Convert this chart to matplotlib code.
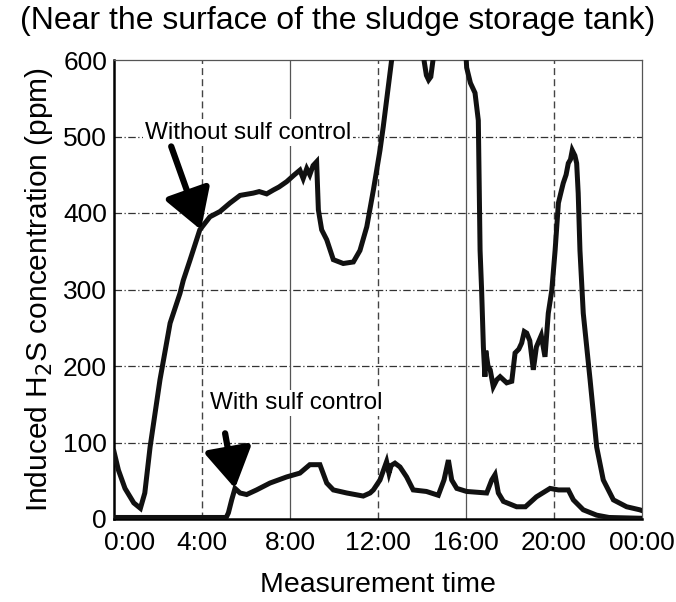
import matplotlib.pyplot as plt
import matplotlib.transforms as mtransforms

plt.rcParams["font.family"] = ["Liberation Sans", "DejaVu Sans"]

# hours since midnight / concentration in ppm
hours_without = [0.0, 0.2, 0.5, 0.9, 1.2, 1.4, 1.64, 2.09, 2.55, 3.0, 3.15, 3.45, 3.9,
                 4.36, 4.82, 5.27, 5.73, 6.33, 6.6, 6.94, 7.24, 7.5, 7.85, 8.2, 8.45,
                 8.6, 8.76, 8.9, 9.05, 9.21, 9.29, 9.44, 9.67, 9.97, 10.42, 10.88,
                 11.18, 11.49, 11.79, 12.09, 12.24, 12.62, 13.0, 13.6, 14.0, 14.1,
                 14.2, 14.3, 14.4, 14.5, 14.6, 15.2, 15.9, 16.03, 16.2, 16.41,
                 16.56, 16.64, 16.71, 16.79, 16.86, 16.9, 17.0, 17.1, 17.24, 17.4,
                 17.55, 17.7, 17.85, 18.08, 18.23, 18.4, 18.53, 18.65, 18.76, 18.9,
                 19.06, 19.2, 19.42, 19.59, 19.74, 19.9, 20.05, 20.2, 20.3, 20.42,
                 20.55, 20.65, 20.75, 20.83, 20.95, 21.03, 21.1, 21.18, 21.33, 21.64,
                 21.94, 22.24, 22.7, 23.3, 23.9, 24.0]
ppm_without = [88, 64, 40, 21, 14, 34, 94, 182, 256, 295, 312, 338, 378,
               395, 402, 413, 423, 426, 428, 425, 430, 434, 441, 450, 456,
               445, 458, 450, 462, 467, 404, 378, 365, 339, 334, 336,
               351, 382, 430, 482, 513, 600, 660, 690, 640, 598,
               580, 574, 578, 600, 640, 690, 660, 590, 570, 557,
               521, 351, 299, 225, 186, 220, 200, 195, 173, 182,
               186, 182, 178, 180, 217, 222, 230, 245, 243, 233,
               195, 225, 240, 212, 269, 299, 351, 413, 425, 439,
               450, 465, 470, 482, 475, 465, 426, 351, 269, 182,
               94, 51, 25, 16, 12, 11]

hours_with = [0.0, 5.1, 5.2, 5.35, 5.5, 5.73, 6.03, 6.48, 7.09, 7.85, 8.45, 8.9,
              9.36, 9.67, 9.97, 10.58, 11.33, 11.64, 11.79, 12.09, 12.39, 12.5,
              12.6, 12.77, 13.0, 13.3, 13.6, 14.2, 14.74, 15.0, 15.2, 15.35,
              15.58, 16.03, 16.94, 17.17, 17.32, 17.47, 17.7, 18.3, 18.7, 19.2,
              19.82, 20.2, 20.65, 20.88, 21.33, 21.94, 22.5, 23.9, 24.0]
ppm_with = [2, 2, 8, 25, 40, 34, 32, 38, 47, 55, 60, 71,
            71, 47, 38, 34, 30, 34, 38, 51, 75, 60,
            70, 73, 68, 55, 38, 36, 31, 51, 77, 51,
            40, 36, 34, 51, 58, 34, 23, 16, 16, 29,
            40, 38, 38, 25, 12, 5, 2, 1, 1]

xtick_pos = [0, 4, 8, 12, 16, 20, 24]
xtick_labels = ["0:00", "4:00", "8:00", "12:00", "16:00", "20:00", "00:00"]
ytick_pos = [0, 100, 200, 300, 400, 500, 600]

fig = plt.figure(figsize=(6.76, 6.02), dpi=100)
ax = fig.add_axes([114 / 676, 83 / 602, 528 / 676, 459 / 602])

ax.plot(hours_without, ppm_without, color="#111", lw=3.6,
        solid_joinstyle="miter", zorder=3)
ax.plot(hours_with, ppm_with, color="#111", lw=3.6,
        solid_joinstyle="miter", zorder=3)

ax.set_xlim(0, 24)
ax.set_ylim(0, 600)
ax.set_xticks(xtick_pos)
ax.set_xticklabels(xtick_labels)
ax.set_yticks(ytick_pos)
ax.tick_params(length=0, labelsize=19, pad=9)
ax.tick_params(axis="y", pad=5)

# first label sits a little to the right of the axis corner
lbl0 = ax.get_xticklabels()[0]
lbl0.set_transform(lbl0.get_transform() +
                   mtransforms.ScaledTranslation(0.16, 0, fig.dpi_scale_trans))

# grid: dash-dot horizontals, alternating dashed / solid verticals
for y in ytick_pos[1:-1]:
    ax.axhline(y, color="#333", lw=0.9, ls=(0, (6, 2, 1, 2)), zorder=1)
for x in [4, 12, 20]:
    ax.axvline(x, color="#444", lw=1.0, ls=(0, (5, 3)), zorder=1)
for x in [8, 16]:
    ax.axvline(x, color="#555", lw=0.9, zorder=1)

for side in ["top", "right"]:
    ax.spines[side].set_linewidth(0.9)
    ax.spines[side].set_color("#555")
for side in ["left", "bottom"]:
    ax.spines[side].set_linewidth(1.8)
    ax.spines[side].set_color("black")

ax.set_xlabel("Measurement time", fontsize=20.5, labelpad=12)
ax.set_ylabel("Induced H$_2$S concentration (ppm)", fontsize=21.5, labelpad=6)

# labels knock out the grid lines behind them
box = dict(facecolor="white", edgecolor="none", pad=1.5)
arrow = dict(arrowstyle="-|>,head_length=1.0,head_width=0.6", lw=4.5,
             color="black", mutation_scale=24, shrinkA=0, shrinkB=0)
ax.text(1.4, 505, "Without sulf control", fontsize=17.5, va="center",
        ha="left", bbox=box, zorder=2)
ax.annotate("", xy=(3.95, 378), xytext=(2.6, 487), arrowprops=arrow, zorder=4)
ax.text(4.35, 152, "With sulf control", fontsize=17.5, va="center",
        ha="left", bbox=box, zorder=2)
ax.annotate("", xy=(5.5, 40), xytext=(5.05, 112), arrowprops=arrow, zorder=4)

fig.text(0.5, 1 - 21 / 602, "(Near the surface of the sludge storage tank)",
         ha="center", va="center", fontsize=23)

fig.savefig("out.png", dpi=100)
